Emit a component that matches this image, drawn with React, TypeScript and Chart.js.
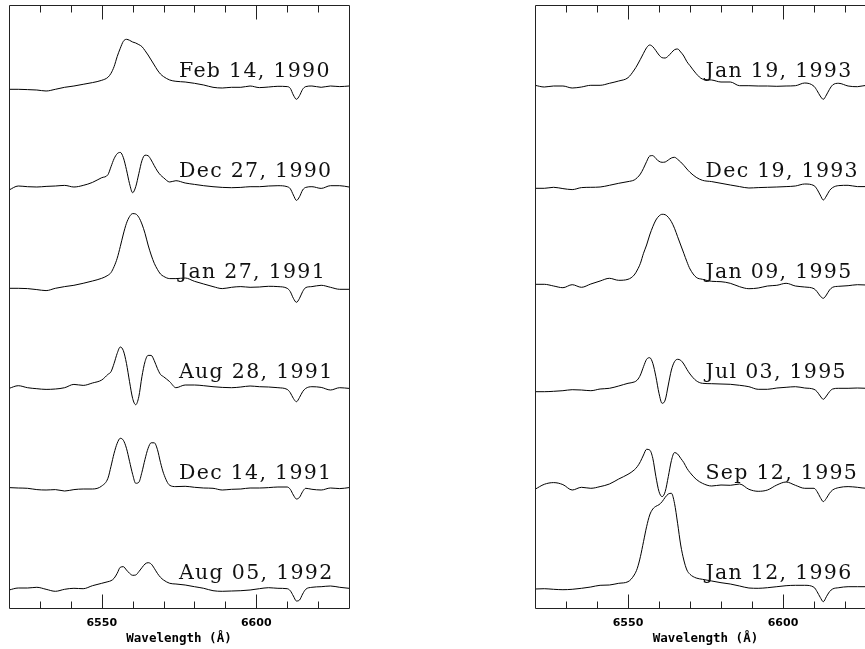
import React, { useEffect, useRef } from "react";
import { Chart, registerables } from "chart.js";

Chart.register(...registerables);

// Wavelength grid (Å) shared by all spectra
const WAVELENGTH = [
  6520, 6523, 6526, 6529, 6532, 6535, 6538, 6541, 6544, 6547, 6550,
  6552, 6553, 6554, 6555, 6556, 6557, 6558, 6559, 6560, 6561, 6562, 6563, 6564, 6565, 6566, 6567, 6568, 6569, 6570,
  6572, 6574,
  6577, 6580, 6583, 6586, 6589, 6592, 6595, 6598, 6601, 6604, 6607, 6610,
  6611, 6612, 6613, 6614, 6615, 6616,
  6618, 6621, 6624, 6627, 6630,
];

// Relative flux (continuum-subtracted) for each epoch
const FEB_14_1990 = [0, 0, -0.003, -0.007, -0.017, 0, 0.02, 0.033, 0.05, 0.067, 0.09,
  0.12, 0.16, 0.227, 0.327, 0.41, 0.48, 0.5, 0.49, 0.473, 0.463, 0.447, 0.427, 0.387, 0.343, 0.293, 0.243, 0.193, 0.153, 0.127,
  0.093, 0.08,
  0.073, 0.06, 0.043, 0.02, 0.013, 0.02, 0.02, 0.033, 0.017, 0.023, 0.03, 0.027,
  0.01, -0.057, -0.1, -0.063, 0, 0.027,
  0.033, 0.02, 0.033, 0.027, 0.033];
const DEC_27_1990 = [-0.033, 0.007, 0, -0.003, 0.003, 0.007, 0.013, -0.003, 0.013, 0.043, 0.09,
  0.12, 0.2, 0.28, 0.33, 0.343, 0.29, 0.17, 0.03, -0.06, 0.0, 0.13, 0.26, 0.315, 0.31, 0.267, 0.21, 0.157, 0.117, 0.09,
  0.047, 0.06,
  0.037, 0.023, 0.01, 0, -0.007, -0.01, -0.007, 0, 0, 0.007, 0.01, 0,
  -0.02, -0.083, -0.137, -0.1, -0.033, -0.007,
  0, -0.017, 0.01, 0.01, -0.003];
const JAN_27_1991 = [0, 0, -0.003, -0.013, -0.023, 0, 0.017, 0.03, 0.05, 0.073, 0.1,
  0.13, 0.157, 0.217, 0.3, 0.417, 0.543, 0.65, 0.717, 0.747, 0.743, 0.71, 0.643, 0.55, 0.433, 0.333, 0.25, 0.19, 0.143, 0.12,
  0.097, 0.097,
  0.103, 0.07, 0.043, 0.017, -0.003, 0.01, 0.017, 0.01, 0.013, 0.02, 0.017, 0,
  -0.033, -0.1, -0.14, -0.1, -0.033, 0.007,
  0.017, 0.03, 0.01, -0.01, -0.01];
const AUG_28_1991 = [-0.007, 0.02, 0, -0.01, -0.017, -0.013, 0, 0.033, 0.023, 0.047, 0.077,
  0.133, 0.16, 0.243, 0.343, 0.407, 0.37, 0.243, 0.06, -0.107, -0.17, -0.09, 0.11, 0.26, 0.323, 0.323, 0.27, 0.193, 0.133, 0.11,
  0.06, 0,
  0.027, 0.027, 0.02, 0.01, 0.003, 0, 0.007, 0.017, 0.01, 0.007, 0, -0.017,
  -0.05, -0.107, -0.14, -0.097, -0.04, -0.007,
  0.01, 0.003, -0.023, 0, -0.007];
const DEC_14_1991 = [0.007, 0.003, 0, -0.013, -0.017, -0.013, -0.027, -0.013, -0.007, -0.007, 0.023,
  0.1, 0.22, 0.35, 0.45, 0.5, 0.48, 0.4, 0.27, 0.14, 0.05, 0.06, 0.16, 0.29, 0.4, 0.455, 0.455, 0.39, 0.26, 0.15,
  0.03, 0.017,
  0.02, 0.01, 0.003, 0, -0.017, -0.01, -0.007, 0.003, 0.003, 0.007, 0.013, 0.013,
  -0.01, -0.067, -0.107, -0.09, -0.033, 0,
  -0.01, -0.017, 0.003, -0.003, 0.007];
const AUG_05_1992 = [-0.01, 0.01, 0.01, 0.017, -0.003, -0.023, -0.003, 0.007, 0.003, 0.033, 0.057,
  0.073, 0.083, 0.107, 0.157, 0.217, 0.223, 0.19, 0.157, 0.137, 0.14, 0.173, 0.213, 0.25, 0.263, 0.25, 0.207, 0.157, 0.117, 0.09,
  0.057, 0.05,
  0.04, 0.023, 0.007, -0.017, -0.023, -0.02, -0.017, -0.01, 0.003, 0.013, 0.007, 0.003,
  -0.017, -0.07, -0.12, -0.11, -0.05, -0.003,
  0.017, 0.023, 0.03, 0.017, 0.007];

const JAN_19_1993 = [0.007, -0.01, 0, 0, -0.02, -0.01, 0.007, 0.007, 0.027, 0.05, 0.083,
  0.16, 0.21, 0.267, 0.327, 0.383, 0.41, 0.393, 0.353, 0.31, 0.283, 0.28, 0.3, 0.333, 0.363, 0.37, 0.34, 0.3, 0.243, 0.203,
  0.123, 0.07,
  0.06, 0.04, 0.04, 0.003, 0.003, 0, 0, -0.003, 0, 0.003, 0.03, -0.003,
  -0.047, -0.1, -0.133, -0.09, -0.033, 0.01,
  0.027, 0, -0.007, 0.007, 0.007];
const DEC_19_1993 = [0, 0, 0.01, -0.003, -0.013, 0.007, 0.01, 0.013, 0.03, 0.05, 0.067,
  0.083, 0.107, 0.143, 0.2, 0.267, 0.323, 0.327, 0.297, 0.27, 0.26, 0.263, 0.283, 0.303, 0.31, 0.29, 0.263, 0.23, 0.193, 0.16,
  0.11, 0.08,
  0.067, 0.05, 0.033, 0.017, 0.003, 0.007, 0.01, 0.013, 0.017, 0.023, 0.043, 0.027,
  -0.01, -0.067, -0.117, -0.077, -0.023, 0.007,
  0.027, 0.03, 0.017, 0.017, 0.017];
const JAN_09_1995 = [-0.003, -0.003, -0.02, -0.037, -0.007, -0.033, 0, 0.03, 0.057, 0.037, 0.047,
  0.09, 0.14, 0.207, 0.307, 0.39, 0.49, 0.573, 0.64, 0.68, 0.697, 0.693, 0.667, 0.623, 0.557, 0.473, 0.39, 0.307, 0.223, 0.15,
  0.067, 0.047,
  0.027, 0.023, 0.007, -0.027, -0.047, -0.04, -0.02, -0.013, 0.007, -0.02, -0.03, -0.047,
  -0.077, -0.12, -0.143, -0.11, -0.06, -0.033,
  -0.023, -0.017, -0.007, -0.01, -0.01];
const JUL_03_1995 = [-0.007, -0.007, -0.003, 0.003, 0.013, 0.01, 0.003, 0.02, 0.027, 0.05, 0.077,
  0.09, 0.11, 0.16, 0.243, 0.317, 0.333, 0.277, 0.143, -0.023, -0.123, -0.09, 0.06, 0.21, 0.293, 0.317, 0.307, 0.27, 0.217, 0.17,
  0.103, 0.077,
  0.073, 0.07, 0.067, 0.057, 0.043, 0.017, 0.017, 0.03, 0.037, 0.043, 0.03, 0.017,
  -0.007, -0.05, -0.083, -0.05, -0.007, 0.02,
  0.027, 0.027, 0.03, 0.027, 0.027];
const SEP_12_1995 = [-0.01, 0.04, 0.057, 0.037, -0.017, 0.01, 0, 0.017, 0.043, 0.093, 0.14,
  0.183, 0.217, 0.267, 0.333, 0.39, 0.383, 0.3, 0.117, -0.033, -0.083, -0.033, 0.117, 0.277, 0.357, 0.343, 0.3, 0.257, 0.2, 0.157,
  0.09, 0.05,
  0.023, 0.033, 0.03, 0.043, -0.01, -0.03, -0.017, 0.033, 0.063, 0.03, 0, 0,
  -0.033, -0.09, -0.133, -0.1, -0.05, -0.017,
  0.007, 0.017, 0.01, 0, 0];
const JAN_12_1996 = [0, 0.003, -0.003, -0.007, -0.003, 0.007, 0.02, 0.037, 0.04, 0.057, 0.073,
  0.14, 0.207, 0.323, 0.473, 0.623, 0.74, 0.8, 0.827, 0.843, 0.873, 0.917, 0.95, 0.957, 0.857, 0.657, 0.44, 0.29, 0.19, 0.147,
  0.11, 0.097,
  0.08, 0.063, 0.05, 0.03, 0.01, 0.007, 0.013, 0.023, 0.033, 0.037, 0.037, 0.017,
  -0.027, -0.083, -0.127, -0.077, -0.027, 0,
  0.013, 0.023, 0.023, 0.023, 0.023];

const LEFT_SERIES = [FEB_14_1990, DEC_27_1990, JAN_27_1991, AUG_28_1991, DEC_14_1991, AUG_05_1992];
const RIGHT_SERIES = [JAN_19_1993, DEC_19_1993, JAN_09_1995, JUL_03_1995, SEP_12_1995, JAN_12_1996];
const LEFT_DATES = ["Feb 14, 1990", "Dec 27, 1990", "Jan 27, 1991", "Aug 28, 1991", "Dec 14, 1991", "Aug 05, 1992"];
const RIGHT_DATES = ["Jan 19, 1993", "Dec 19, 1993", "Jan 09, 1995", "Jul 03, 1995", "Sep 12, 1995", "Jan 12, 1996"];
// Vertical offsets (continuum levels) of the stacked spectra
const LEFT_OFFSETS = [5.187, 4.213, 3.197, 2.203, 1.197, 0.19];
const RIGHT_OFFSETS = [5.22, 4.197, 3.24, 2.17, 1.197, 0.19];
// Label anchor levels (data units) and wavelength
const LABEL_LEVELS = [5.313, 4.31, 3.297, 2.30, 1.287, 0.29];
const LABEL_WAVELENGTH = 6575;

const X_MIN = 6520;
const X_MAX = 6630;
const Y_MIN = 0;
const Y_MAX = 6.03;
const MAJOR_TICKS = [6550, 6600];
const MINOR_TICKS = [6530, 6540, 6560, 6570, 6580, 6590, 6610, 6620];

const framePlugin = {
  id: "frame",
  afterDatasetsDraw(chart: any, _args: any, opts: any) {
    const { ctx, chartArea: a, scales } = chart;
    const xs = scales.x;
    const ys = scales.y;
    const L = Math.round(a.left) + 0.5;
    const R = Math.round(a.right) + 0.5;
    const T = Math.round(a.top) + 0.5;
    const B = Math.round(a.bottom) + 0.5;
    ctx.save();
    ctx.strokeStyle = "#222";
    ctx.lineWidth = 1;
    ctx.beginPath();
    ctx.rect(L, T, R - L, B - T);
    const tick = (v: number, len: number) => {
      const px = Math.round(xs.getPixelForValue(v)) + 0.5;
      ctx.moveTo(px, B);
      ctx.lineTo(px, B - len);
      ctx.moveTo(px, T);
      ctx.lineTo(px, T + len);
    };
    MAJOR_TICKS.forEach((v) => tick(v, 14));
    MINOR_TICKS.forEach((v) => tick(v, 7));
    ctx.stroke();

    // tick labels
    ctx.fillStyle = "#000";
    ctx.font = "bold 11px 'DejaVu Sans'";
    ctx.textAlign = "center";
    ctx.textBaseline = "middle";
    MAJOR_TICKS.forEach((v) => {
      ctx.fillText(String(v), xs.getPixelForValue(v), a.bottom + 15);
    });
    // axis title
    ctx.font = "bold 12.5px 'DejaVu Sans Mono'";
    ctx.fillText("Wavelength (\u00C5)", (a.left + a.right) / 2, a.bottom + 31);

    // epoch labels
    ctx.fillStyle = "#111";
    ctx.font = "20.5px 'DejaVu Serif'";
    (ctx as any).letterSpacing = "1.3px";
    ctx.textAlign = "left";
    ctx.textBaseline = "alphabetic";
    (opts.dates as string[]).forEach((d, i) => {
      ctx.fillText(d, xs.getPixelForValue(LABEL_WAVELENGTH), ys.getPixelForValue(LABEL_LEVELS[i]));
    });
    ctx.restore();
  },
};

type PanelProps = {
  left: number;
  width: number;
  padding: { left: number; right: number; top: number; bottom: number };
  series: number[][];
  dates: string[];
  offsets: number[];
};

function SpectraPanel({ left, width, padding, series, dates, offsets }: PanelProps) {
  const ref = useRef<HTMLCanvasElement>(null);
  useEffect(() => {
    if (!ref.current) return;
    const chart = new Chart(ref.current, {
      type: "line",
      data: {
        datasets: series.map((s, i) => ({
          label: dates[i],
          data: WAVELENGTH.map((w, j) => ({ x: w, y: offsets[i] + s[j] })),
          borderColor: "#000",
          borderWidth: 1,
          pointRadius: 0,
          fill: false,
          cubicInterpolationMode: "monotone" as const,
        })),
      },
      options: {
        animation: false,
        responsive: false,
        events: [],
        layout: { padding },
        plugins: {
          legend: { display: false },
          tooltip: { enabled: false },
          // @ts-ignore
          frame: { dates },
        },
        scales: {
          x: { type: "linear", min: X_MIN, max: X_MAX, display: false },
          y: { type: "linear", min: Y_MIN, max: Y_MAX, display: false },
        },
      },
      plugins: [framePlugin as any],
    });
    return () => chart.destroy();
  }, []);
  return (
    <canvas
      ref={ref}
      width={width}
      height={649}
      style={{ position: "absolute", left, top: 0, width, height: 649 }}
    />
  );
}

export default function App() {
  return (
    <div
      style={{
        position: "fixed",
        left: 0,
        top: 0,
        width: 865,
        height: 649,
        overflow: "hidden",
        background: "#fff",
      }}
    >
      <SpectraPanel
        left={0}
        width={360}
        padding={{ left: 9, right: 11, top: 5, bottom: 41 }}
        series={LEFT_SERIES}
        dates={LEFT_DATES}
        offsets={LEFT_OFFSETS}
      />
      <SpectraPanel
        left={520}
        width={370}
        padding={{ left: 15, right: 14, top: 5, bottom: 41 }}
        series={RIGHT_SERIES}
        dates={RIGHT_DATES}
        offsets={RIGHT_OFFSETS}
      />
    </div>
  );
}
